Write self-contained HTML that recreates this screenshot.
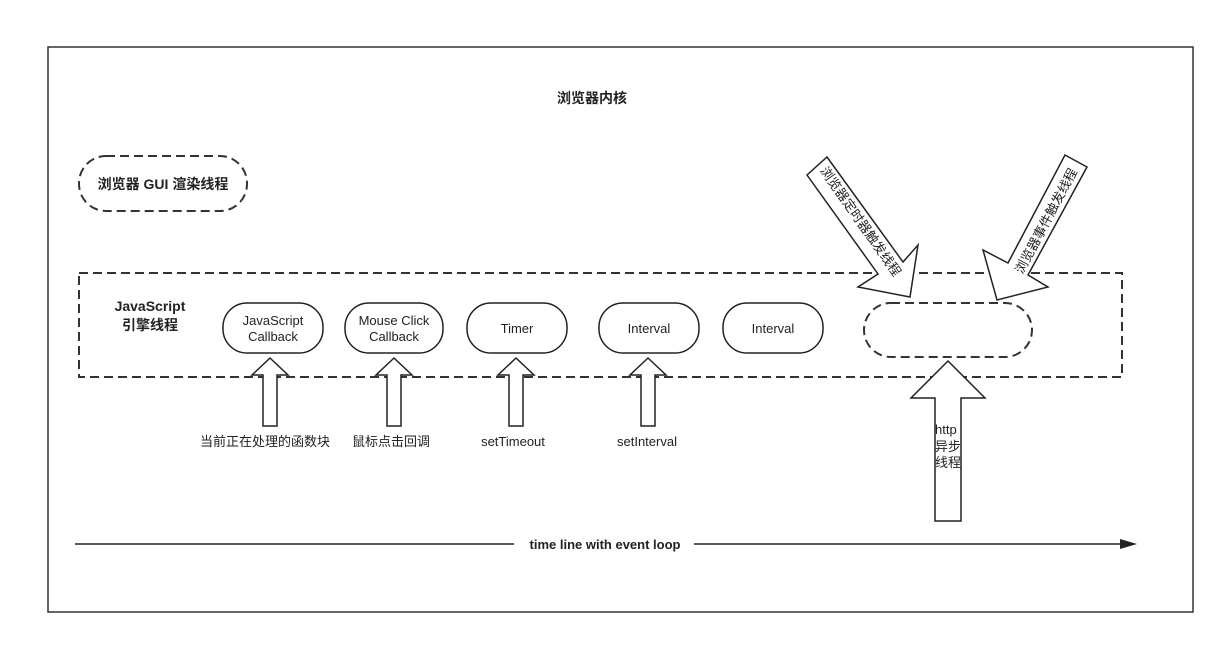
<!DOCTYPE html>
<html><head><meta charset="utf-8"><style>
body{margin:0;background:#fff}
text{font-family:"Liberation Sans","Noto Sans CJK SC",sans-serif;fill:#222}
</style></head><body>
<svg width="1225" height="645" viewBox="0 0 1225 645" xmlns="http://www.w3.org/2000/svg">
<rect x="48" y="47" width="1145" height="565" fill="#fff" stroke="#333" stroke-width="1.5"/>
<text x="592" y="103" font-size="14" font-weight="bold" text-anchor="middle">浏览器内核</text>
<g fill="none" stroke="#333" stroke-width="2" stroke-dasharray="9,5">
<rect x="79" y="156" width="168" height="55" rx="27"/>
<rect x="79" y="273" width="1043" height="104"/>
<rect x="864" y="303" width="168" height="54" rx="27"/>
</g>
<text x="163" y="189" font-size="14" font-weight="bold" text-anchor="middle">浏览器 GUI 渲染线程</text>
<text x="150" y="311" font-size="14" font-weight="bold" text-anchor="middle">JavaScript</text>
<text x="150" y="330" font-size="14" font-weight="bold" text-anchor="middle">引擎线程</text>
<g fill="#fff" stroke="#222" stroke-width="1.5">
<rect x="223" y="303" width="100" height="50" rx="24"/>
<rect x="345" y="303" width="98" height="50" rx="24"/>
<rect x="467" y="303" width="100" height="50" rx="24"/>
<rect x="599" y="303" width="100" height="50" rx="24"/>
<rect x="723" y="303" width="100" height="50" rx="24"/>
</g>
<g font-size="13" text-anchor="middle">
<text x="273" y="325">JavaScript</text><text x="273" y="341">Callback</text>
<text x="394" y="325">Mouse Click</text><text x="394" y="341">Callback</text>
<text x="517" y="333">Timer</text>
<text x="649" y="333">Interval</text>
<text x="773" y="333">Interval</text>
</g>
<g fill="#fff" stroke="#222" stroke-width="1.5">
<path d="M270 358 L288 375 L277 375 L277 426 L263 426 L263 375 L252 375 Z"/>
<path d="M394 358 L412 375 L401 375 L401 426 L387 426 L387 375 L376 375 Z"/>
<path d="M516 358 L534 375 L523 375 L523 426 L509 426 L509 375 L498 375 Z"/>
<path d="M648 358 L666 375 L655 375 L655 426 L641 426 L641 375 L630 375 Z"/>
<path d="M948 361 L985 398 L961 398 L961 521 L935 521 L935 398 L911 398 Z"/>
<path d="M807 175 L827 157 L903 262 L918 245 L910 297 L858 287 L878 274 Z"/>
<path d="M1065 155 L1087 167 L1028 275 L1048 287 L997 300 L983 250 L1008 263 Z"/>
</g>
<g font-size="13" text-anchor="middle">
<text x="265" y="446">当前正在处理的函数块</text>
<text x="391" y="446">鼠标点击回调</text>
<text x="513" y="446">setTimeout</text>
<text x="647" y="446">setInterval</text>
</g>
<g font-size="13">
<text x="935" y="434">http</text>
<text x="935" y="451">异步</text>
<text x="935" y="467">线程</text>
</g>
<text font-size="13" transform="translate(857,224) rotate(55)" text-anchor="middle">浏览器定时器触发线程</text>
<text font-size="13" transform="translate(1050,223) rotate(-62)" text-anchor="middle">浏览器事件触发线程</text>
<line x1="75" y1="544" x2="1122" y2="544" stroke="#222" stroke-width="1.5"/>
<path d="M1120 539 L1137 544 L1120 549 Z" fill="#222"/>
<rect x="514" y="536" width="180" height="16" fill="#fff"/>
<text x="605" y="549" font-size="13" font-weight="bold" text-anchor="middle">time line with event loop</text>
</svg>
</body></html>
